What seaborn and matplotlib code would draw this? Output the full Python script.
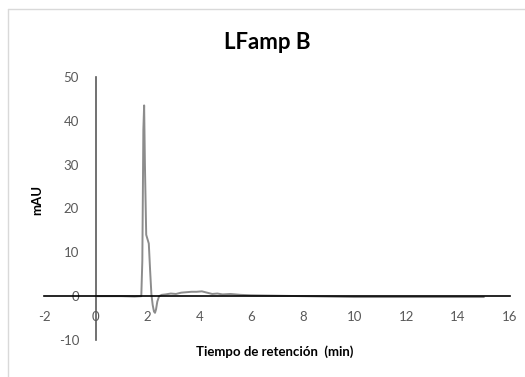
import matplotlib
matplotlib.use("Agg")
import matplotlib.pyplot as plt
import seaborn as sns
import pandas as pd
from matplotlib.lines import Line2D

# Chromatogram trace: retention time (min) vs absorbance (mAU)
time_min = [0.0, 0.5, 1.0, 1.5, 1.76, 1.8, 1.84, 1.87, 1.9, 1.95, 2.0, 2.05,
            2.1, 2.15, 2.2, 2.25, 2.29, 2.33, 2.38, 2.45, 2.55, 2.7, 2.9, 3.1,
            3.3, 3.5, 3.7, 3.9, 4.1, 4.3, 4.5, 4.7, 4.9, 5.2, 5.6, 6.0, 7.0,
            8.0, 9.0, 10.0, 11.0, 12.0, 13.0, 14.0, 15.0]
mau = [0.0, 0.0, 0.0, -0.1, 0.0, 8.0, 38.0, 43.5, 30.0, 14.0, 13.0, 12.0,
       6.0, 0.5, -2.0, -3.5, -3.8, -3.0, -1.2, 0.0, 0.3, 0.4, 0.6, 0.5,
       0.8, 0.9, 1.0, 1.0, 1.1, 0.8, 0.5, 0.6, 0.4, 0.5, 0.3, 0.2, 0.1,
       0.0, -0.1, -0.2, -0.2, -0.2, -0.2, -0.2, -0.2]

x_ticks = [-2, 0, 2, 4, 6, 8, 10, 12, 14, 16]
y_ticks = [-10, 0, 10, 20, 30, 40, 50]

title = "LFamp B"
x_label = "Tiempo de retención  (min)"
y_label = "mAU"

sns.set_theme(style="white")
plt.rcParams["font.family"] = ["Lato", "DejaVu Sans"]

df = pd.DataFrame({"time": time_min, "mAU": mau})

fig = plt.figure(figsize=(5.25, 3.77), dpi=100)
ax = fig.add_axes([0.0838, 0.0981, 0.971 - 0.0838, 0.796 - 0.0981])

sns.lineplot(data=df, x="time", y="mAU", ax=ax, color="#8c8c8c",
             linewidth=1.4, estimator=None, sort=False)

ax.set_xlim(-2, 16)
ax.set_ylim(-10, 50)
ax.set_xticks(x_ticks)
ax.set_yticks(y_ticks)
ax.set_xticklabels([str(v) for v in x_ticks])
ax.set_yticklabels([str(v) for v in y_ticks])

for side in ["top", "right"]:
    ax.spines[side].set_visible(False)
ax.spines["left"].set_position(("data", 0))
ax.spines["bottom"].set_position(("data", 0))
ax.spines["left"].set_color("#595959")
ax.spines["left"].set_linewidth(1.2)
ax.spines["bottom"].set_color("#000000")
ax.spines["bottom"].set_linewidth(1.2)
ax.spines["left"].set_zorder(1)
ax.spines["bottom"].set_zorder(3)

ax.tick_params(axis="both", length=0, labelsize=9.5, labelcolor="#595959")
ax.tick_params(axis="x", pad=11)
ax.tick_params(axis="y", pad=12)

ax.set_xlabel("")
ax.set_ylabel("")
fig.text(0.524, 0.066, x_label, ha="center", va="center", fontsize=9.5,
         fontweight="bold", color="#000000")
fig.text(0.071, 0.47, y_label, ha="center", va="center", fontsize=9.5,
         fontweight="bold", rotation=90, color="#000000")
fig.text(0.51, 0.888, title, ha="center", va="center", fontsize=16,
         fontweight="bold", color="#000000")

# light chart-area frame
fig.add_artist(Line2D([0.016, 0.016], [0.0, 0.976], transform=fig.transFigure,
                      color="#d9d9d9", linewidth=1.0))
fig.add_artist(Line2D([0.016, 1.0], [0.976, 0.976], transform=fig.transFigure,
                      color="#d9d9d9", linewidth=1.0))

fig.savefig("out.png", dpi=100)
